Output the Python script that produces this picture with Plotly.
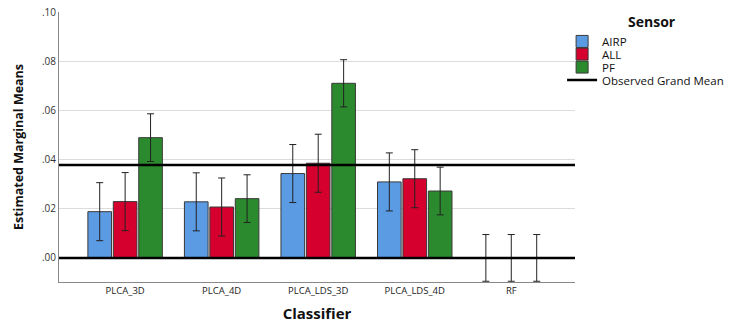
import plotly.graph_objects as go

classifiers = ["PLCA_3D", "PLCA_4D", "PLCA_LDS_3D", "PLCA_LDS_4D", "RF"]
sensors = ["AIRP", "ALL", "PF"]
airp_means = [0.0188, 0.0228, 0.0343, 0.0309, 0.0]
all_means = [0.0229, 0.0207, 0.0385, 0.0322, 0.0]
pf_means = [0.0489, 0.0241, 0.0710, 0.0272, 0.0]
airp_err = [0.0118, 0.0118, 0.0118, 0.0118, 0.0095]
all_err = [0.0118, 0.0118, 0.0118, 0.0118, 0.0095]
pf_err = [0.0097, 0.0097, 0.0096, 0.0097, 0.0095]
grand_mean = 0.0378
y_tick_vals = [0.0, 0.02, 0.04, 0.06, 0.08, 0.10]
y_tick_text = [".00", ".02", ".04", ".06", ".08", ".10"]
colors = ["#5B9BE4", "#D6002F", "#2B8A2D"]

FONT = "Open Sans"
x_idx = list(range(len(classifiers)))

# legend positions (paper y for each entry), separate legends for tight spacing
legend_names = ["legend", "legend2", "legend3", "legend4"]
legend_y = [0.891, 0.844, 0.796, 0.748]
LEG_X = 0.975

fig = go.Figure()
for i, (name, means, errs, col) in enumerate(zip(sensors, [airp_means, all_means, pf_means],
                                  [airp_err, all_err, pf_err], colors)):
    fig.add_trace(go.Bar(
        x=x_idx, y=means, name=name, legend=legend_names[i],
        marker=dict(color=col, line=dict(color="#3a3a3a", width=1)),
        error_y=dict(type="data", array=errs, visible=True, color="#222222",
                     thickness=1, width=3.5),
    ))

# legend entry for grand mean
fig.add_trace(go.Scatter(x=[None], y=[None], mode="lines", name="Observed Grand Mean",
                         legend=legend_names[3], line=dict(color="black", width=2.5)))

fig.add_shape(type="line", xref="paper", x0=0, x1=1, yref="y", y0=grand_mean, y1=grand_mean,
              line=dict(color="black", width=2.5), layer="above")
fig.add_shape(type="line", xref="paper", x0=0, x1=1, yref="y", y0=0, y1=0,
              line=dict(color="black", width=2.5), layer="above")

fig.add_annotation(text="<b>Sensor</b>", xref="paper", yref="paper", x=1.149, y=0.963,
                   xanchor="center", yanchor="middle", showarrow=False,
                   font=dict(size=14, family=FONT, color="#111"))

leg_common = dict(xanchor="left", yanchor="middle", tracegroupgap=0, itemwidth=30,
                  bgcolor="rgba(0,0,0,0)", font=dict(size=11.5, family=FONT, color="#111"))
layout_legends = {}
for ln, ly in zip(legend_names, legend_y):
    layout_legends[ln] = dict(x=LEG_X, y=ly, **leg_common)

fig.update_layout(
    width=736, height=323,
    margin=dict(l=59, r=161, t=12, b=41, autoexpand=False),
    paper_bgcolor="white", plot_bgcolor="white",
    barmode="group", bargap=0.21, bargroupgap=0.07,
    font=dict(family=FONT, color="#222222"),
    showlegend=True,
    **layout_legends,
    xaxis=dict(
        tickvals=x_idx, ticktext=classifiers, range=[-0.685, 4.66], automargin=False,
        showgrid=False, zeroline=False, showline=True, linecolor="#888888", linewidth=1,
        ticks="", tickfont=dict(size=9.5, family=FONT, color="#222"),
        title=dict(text="<b>Classifier</b>", font=dict(size=15, family=FONT, color="#111")),
    ),
    yaxis=dict(
        range=[-0.0098, 0.1], tickvals=y_tick_vals, ticktext=y_tick_text, automargin=False,
        showgrid=True, gridcolor="#dcdcdc", gridwidth=1, zeroline=False,
        showline=True, linecolor="#888888", linewidth=1, mirror=False,
        ticks="", tickfont=dict(size=10, family=FONT, color="#333"),
        title=dict(text="<b>Estimated Marginal Means</b>", font=dict(size=12.5, family=FONT, color="#111")),
    ),
)

fig.write_html("out.html", config={"displayModeBar": False},
               post_script="document.body.style.margin='0px';document.body.style.overflow='hidden';")
